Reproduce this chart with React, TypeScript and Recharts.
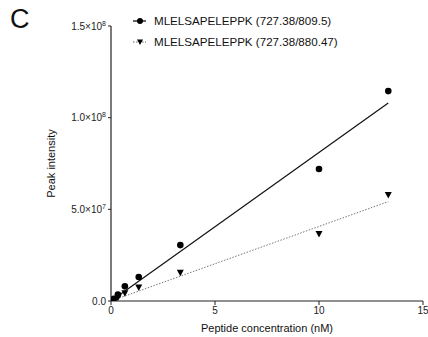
import { ScatterChart, Scatter, XAxis, YAxis, Label } from 'recharts';

const concentration = [0, 0.0333, 0.0667, 0.1333, 0.3333, 0.6667, 1.333, 3.333, 10, 13.33];
const intensity809 = [0, 2e5, 5e5, 1.2e6, 3.5e6, 8.0e6, 1.31e7, 3.05e7, 7.2e7, 1.145e8];
const intensity880 = [0, 1e5, 2.5e5, 6e5, 1.8e6, 4.2e6, 7.3e6, 1.54e7, 3.65e7, 5.78e7];
const fitX = [0, 13.33];
const fit809 = [0, 1.08e8];
const fit880 = [0, 5.42e7];
const xTicks = [0, 5, 10, 15];
const yTicks = [0, 5e7, 1e8, 1.5e8];
const yTickText: Record<number, [string, string]> = {
  0: ['0.0', ''],
  50000000: ['5.0×10', '7'],
  100000000: ['1.0×10', '8'],
  150000000: ['1.5×10', '8'],
};
const seriesNames = ['MLELSAPELEPPK (727.38/809.5)', 'MLELSAPELEPPK (727.38/880.47)'];

const FONT = 'Arial, "Liberation Sans", sans-serif';
const pts809 = concentration.map((x, i) => ({ x, y: intensity809[i] }));
const pts880 = concentration.map((x, i) => ({ x, y: intensity880[i] }));
const line809 = fitX.map((x, i) => ({ x, y: fit809[i] }));
const line880 = fitX.map((x, i) => ({ x, y: fit880[i] }));

const Dot = (p: any) => <circle cx={p.cx} cy={p.cy} r={3.3} fill="#000" />;
const Tri = (p: any) => (
  <path d={`M${p.cx - 3.5},${p.cy - 3} L${p.cx + 3.5},${p.cy - 3} L${p.cx},${p.cy + 3.5} Z`} fill="#000" />
);
const Nothing = () => <g />;

const YTick = ({ x, y, payload }: any) => {
  const [base, sup] = yTickText[payload.value] ?? [String(payload.value), ''];
  return (
    <text x={x} y={y + 3.5} textAnchor="end" fontSize={10} fontFamily={FONT} fill="#222">
      {base}
      {sup && <tspan dy={-4} fontSize={7}>{sup}</tspan>}
    </text>
  );
};

export default function App() {
  return (
    <div style={{ position: 'absolute', left: 0, top: 0, width: 428, height: 337, background: '#fff', fontFamily: FONT }}>
      <div style={{ position: 'absolute', left: 10, top: 4, fontSize: 27, color: '#111' }}>C</div>
      <div style={{ position: 'absolute', left: 130, top: 10, fontSize: 11.6, color: '#111', zIndex: 2 }}>
        {seriesNames.map((n, i) => (
          <div key={i} style={{ display: 'flex', alignItems: 'center', height: 21 }}>
            <svg width={24} height={12}>
              <line x1={3} y1={6} x2={16} y2={6} stroke={i === 0 ? '#000' : '#666'} strokeWidth={i === 0 ? 1.2 : 1} strokeDasharray={i === 0 ? undefined : '1.5 1.5'} />
              {i === 0 ? <circle cx={10} cy={6} r={3} fill="#000" /> : <path d="M7,3.5 L13,3.5 L10,9 Z" fill="#000" />}
            </svg>
            <span>{n}</span>
          </div>
        ))}
      </div>
      <ScatterChart width={428} height={337} margin={{ top: 26, right: 5, left: 0, bottom: 0 }}>
        <XAxis
          type="number"
          dataKey="x"
          domain={[0, 15]}
          ticks={xTicks}
          allowDataOverflow
          height={36}
          axisLine={{ stroke: '#222', strokeWidth: 1.2 }}
          tickLine={{ stroke: '#222' }}
          tickSize={4}
          tick={{ fontSize: 10, fill: '#222', fontFamily: FONT }}
        >
          <Label value="Peptide concentration (nM)" position="insideBottom" offset={5} style={{ fontSize: 11, fill: '#111', fontFamily: FONT }} />
        </XAxis>
        <YAxis
          type="number"
          dataKey="y"
          domain={[0, 1.5e8]}
          ticks={yTicks}
          allowDataOverflow
          width={111}
          axisLine={{ stroke: '#222', strokeWidth: 1.2 }}
          tickLine={{ stroke: '#222' }}
          tickSize={3}
          tick={<YTick />}
        >
          <Label value="Peak intensity" angle={-90} position="insideLeft" offset={51} style={{ fontSize: 11, fill: '#111', fontFamily: FONT, textAnchor: 'middle' }} />
        </YAxis>
        <Scatter data={line809} line={{ stroke: '#111', strokeWidth: 1.2 }} shape={<Nothing />} isAnimationActive={false} />
        <Scatter data={line880} line={{ stroke: '#777', strokeWidth: 1, strokeDasharray: '1.5 1.5' }} shape={<Nothing />} isAnimationActive={false} />
        <Scatter data={pts809} shape={<Dot />} isAnimationActive={false} />
        <Scatter data={pts880} shape={<Tri />} isAnimationActive={false} />
      </ScatterChart>
    </div>
  );
}
